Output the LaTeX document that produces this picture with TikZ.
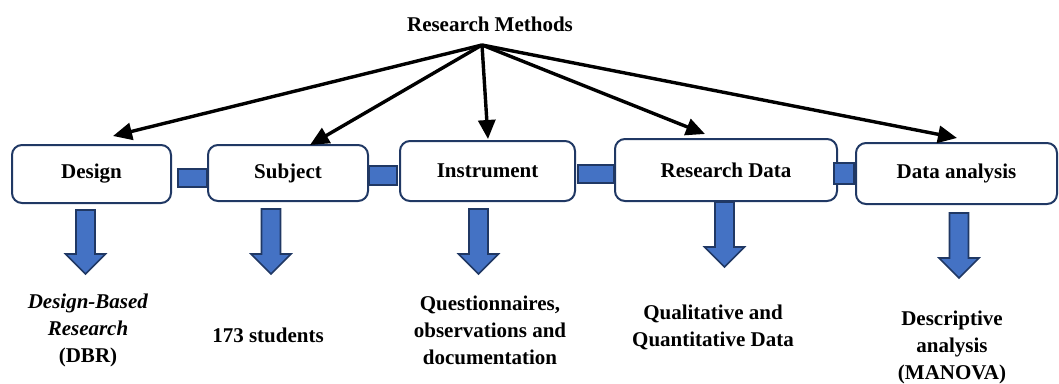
\documentclass[tikz,border=0pt]{standalone}
\usepackage{fontspec}
\setmainfont{Liberation Serif}
\usetikzlibrary{arrows.meta,calc}

\definecolor{navy}{HTML}{203864}
\definecolor{barblue}{HTML}{4472C4}

\begin{document}
\begin{tikzpicture}[
  x=1pt, y=-1pt,
  line join=round,
  stage/.style={draw=navy, line width=2pt, rounded corners=10pt, fill=white,
    inner sep=0pt, font=\fontsize{21}{27}\selectfont\bfseries},
  label/.style={align=center, inner sep=0pt, font=\fontsize{21}{27}\selectfont\bfseries},
  bar/.style={draw=navy, fill=barblue, line width=1.6pt, line join=miter},
  fan/.style={line width=3.4pt, -{Triangle[length=19pt,width=17pt]}},
]
\useasboundingbox (0,0) rectangle (1059,383);

% the title and the point where the arrows part
\node[label] (methods) at (490,24) {Research Methods};
\coordinate (hub) at (482,45);

% the five stages
\node[stage, minimum width=159pt, minimum height=58pt] (design) at (91.5,174) {Design};
\node[stage, minimum width=160pt, minimum height=56pt] (subject) at (288,173) {Subject};
\node[stage, minimum width=175pt, minimum height=60pt] (instrument) at (487.5,171) {Instrument};
\node[stage, minimum width=222pt, minimum height=62pt] (resdata) at (726,170) {Research Data};
\node[stage, minimum width=201pt, minimum height=61pt] (analysis) at (956.5,173.5) {Data analysis};

% the bars that join the stages
\draw[bar] ($(design.east)+(6,-5)$) rectangle ($(subject.west)+(0,14)$);
\draw[bar] ($(subject.east)+(0,-7)$) rectangle ($(instrument.west)+(-2,14)$);
\draw[bar] ($(instrument.east)+(2,-6)$) rectangle ($(resdata.west)+(0,13)$);
\draw[bar] ($(resdata.east)+(-4,-7)$) rectangle ($(analysis.west)+(-1,10.5)$);

% the arrows from the title
\draw[fan] (hub) -- ([xshift=21.5pt,yshift=8pt]design.north);
\draw[fan] (hub) -- ([xshift=22pt,yshift=-1pt]subject.north);
\draw[fan] (hub) -- ([xshift=0.5pt,yshift=1pt]instrument.north);
\draw[fan] (hub) -- ([xshift=-21pt,yshift=4pt]resdata.north);
\draw[fan] (hub) -- ([xshift=0.5pt,yshift=4pt]analysis.north);

% the block arrows under the stages
\foreach \x/\top/\tip in {85.5/210/274, 271/209/274, 478.5/209/274, 724.5/202/267, 959/213/278} {
  \draw[bar] (\x-9.5,\top) -- (\x+9.5,\top) -- (\x+9.5,\tip-20) -- (\x+20,\tip-20)
    -- (\x,\tip) -- (\x-20,\tip-20) -- (\x-9.5,\tip-20) -- cycle;
}

% what each stage holds
\node[label] (dbr) at (88,330) {\textit{Design-Based}\\\textit{Research}\\(DBR)};
\node[label] (students) at (268,335) {173 students};
\node[label] (tools) at (490,330) {Questionnaires,\\observations and\\documentation};
\node[label] (kinds) at (713,327) {Qualitative and\\Quantitative Data};
\node[label] (manova) at (952,347) {Descriptive\\analysis\\(MANOVA)};

\end{tikzpicture}
\end{document}
